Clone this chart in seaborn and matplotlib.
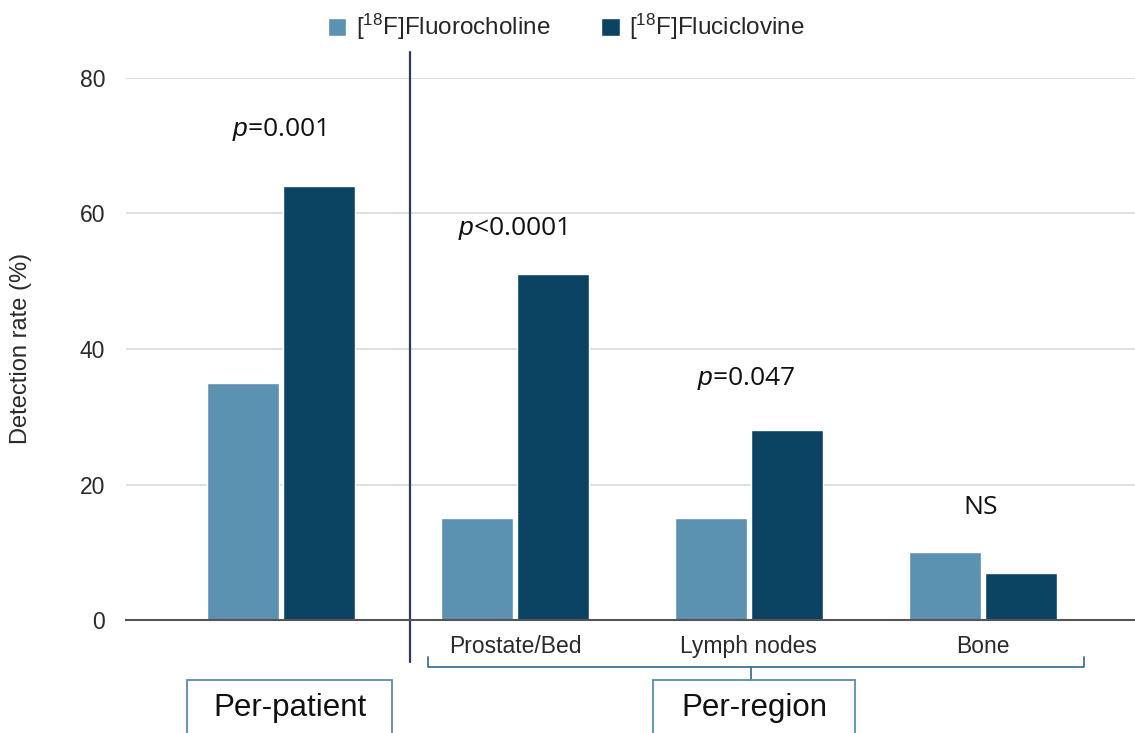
import matplotlib
matplotlib.use("Agg")
import matplotlib.pyplot as plt
from matplotlib.patches import Rectangle
import pandas as pd
import seaborn as sns

# data
categories = ["Per-patient", "Prostate/Bed", "Lymph nodes", "Bone"]
tick_labels = ["", "Prostate/Bed", "Lymph nodes", "Bone"]
tracers = [r"[$^{\mathrm{18}}$F]Fluorocholine", r"[$^{\mathrm{18}}$F]Fluciclovine"]
fluorocholine = [35, 15, 15, 10]
fluciclovine = [64, 51, 28, 7]
p_labels = [r"$\mathit{p}$=0.001", r"$\mathit{p}$<0.0001", r"$\mathit{p}$=0.047", "NS"]
p_heights = [72.4, 57.7, 35.6, 16.6]
colors = ["#5b91b1", "#0b4462"]

df = pd.DataFrame({
    "category": categories * 2,
    "rate": fluorocholine + fluciclovine,
    "tracer": [tracers[0]] * len(categories) + [tracers[1]] * len(categories),
})

sns.set_style("white")
plt.rcParams["font.family"] = ["Liberation Sans", "DejaVu Sans"]
plt.rcParams["mathtext.fontset"] = "custom"
plt.rcParams["mathtext.rm"] = "Liberation Sans"
plt.rcParams["mathtext.it"] = "Liberation Sans:italic"

fig = plt.figure(figsize=(11.35, 7.33), dpi=100)
ax = fig.add_axes([0.111, 0.154, 0.889, 0.740])

sns.barplot(data=df, x="category", y="rate", hue="tracer", palette=colors,
            width=0.65, gap=0.05, saturation=1, ax=ax)

ax.set_xlim(-0.662, 3.65)
ax.set_ylim(0, 80)
ax.set_yticks([0, 20, 40, 60, 80])
ax.yaxis.grid(True, color="#d9d9d9", linewidth=1.2)
ax.set_axisbelow(True)
for side in ["left", "right", "top"]:
    ax.spines[side].set_visible(False)
ax.spines["bottom"].set_color("#555555")
ax.spines["bottom"].set_linewidth(1.5)
ax.tick_params(length=0, labelsize=16.5, colors="#2a2a2a")
ax.tick_params(axis="y", pad=15)
ax.tick_params(axis="x", pad=11)
ax.set_xticks(range(len(categories)))
ax.set_xticklabels(tick_labels)
ax.set_xlabel("")
ax.set_ylabel("Detection rate (%)", fontsize=17, color="#2a2a2a")
ax.yaxis.set_label_coords(-0.093, 0.5)

# p-values above each group
for i, (lab, h) in enumerate(zip(p_labels, p_heights)):
    ax.text(i - 0.01, h, lab, ha="center", va="center", fontsize=19, color="#111111",
            family="Open Sans")

# separator between per-patient and per-region
ax.plot([0.551, 0.551], [-6.2, 83.8], color="#2c3766", linewidth=1.6, clip_on=False)

# bracket under the per-region labels
bc = "#3a7696"
ax.plot([0.628, 0.628, 3.43, 3.43], [-5.5, -6.9, -6.9, -5.5], color=bc, lw=1.3, clip_on=False)
ax.plot([2.01, 2.01], [-6.9, -8.9], color=bc, lw=1.3, clip_on=False)

# legend on top
handles, labels = ax.get_legend_handles_labels()
ax.legend_.remove()
fig.legend(handles, labels, loc="center", bbox_to_anchor=(0.499, 0.963), ncol=2,
           frameon=False, fontsize=17.5, handlelength=0.75, handleheight=0.75,
           columnspacing=2.1, handletextpad=0.4)

# group boxes at the bottom
W, H = 1135, 733
for x0, x1, text in [(187, 392, "Per-patient"), (653, 855, "Per-region")]:
    fig.patches.append(Rectangle((x0 / W, -0.02), (x1 - x0) / W, (733 - 680) / H + 0.02,
                                 transform=fig.transFigure, fill=False,
                                 edgecolor="#5a8eaa", linewidth=1.3))
    fig.text((x0 + x1) / 2 / W, 1 - 708 / H, text, ha="center", va="center",
             fontsize=22.5, color="#111111")

fig.savefig("out.png", dpi=100, facecolor="white")
